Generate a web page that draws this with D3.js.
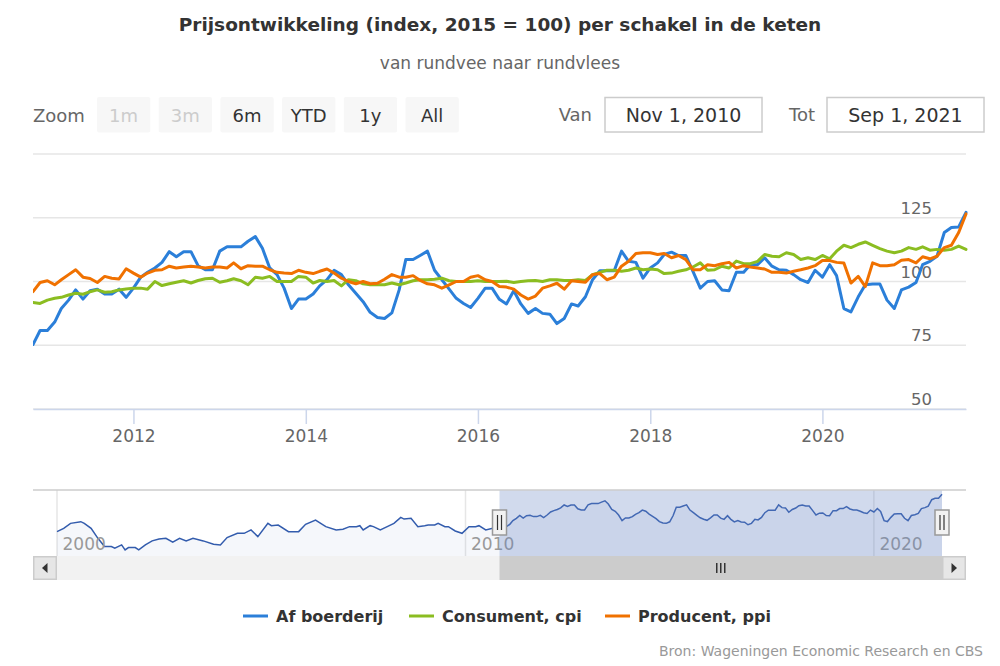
<!DOCTYPE html>
<html><head><meta charset="utf-8">
<script src="https://cdn.jsdelivr.net/npm/d3@7"></script>
<style>body{margin:0;background:#fff}svg{display:block;font-family:"DejaVu Sans",Verdana,sans-serif}</style>
</head><body><svg id="c" width="1000" height="666"></svg>
<script>
// ---------- data ----------
const startMonth = "2010-11", endMonth = "2021-09";
const seriesNames = ["Af boerderij", "Consument, cpi", "Producent, ppi"];
const afBoerderij = [75.3,80.8,80.8,84.1,89.4,92.7,96.7,93.1,96.4,97.0,95.1,95.1,97.0,93.8,97.4,101.7,103.6,105.3,107.5,111.7,109.7,111.7,111.7,106.2,104.6,104.6,111.9,113.6,113.6,113.6,115.8,117.6,113.0,105.3,102.7,97.4,89.4,93.1,93.1,95.1,98.3,100.7,104.4,102.7,98.7,95.4,92.1,87.9,85.9,85.5,87.7,96.7,108.6,108.6,110.2,111.9,104.4,100.7,97.0,93.4,91.4,89.8,93.4,97.4,97.4,93.0,91.2,96.4,91.2,87.5,89.4,87.5,87.2,83.5,85.5,91.2,90.4,94.0,100.7,104.2,104.2,104.2,111.9,107.9,107.5,101.3,105.3,107.3,110.6,111.5,110.2,110.2,104.0,97.4,100.0,100.3,96.7,96.4,103.6,103.6,106.6,106.6,109.3,106.0,104.6,104.4,102.7,100.7,99.6,104.4,101.7,106.6,102.3,89.4,88.1,94.0,98.7,99.0,99.0,92.7,89.4,96.7,97.8,99.6,106.6,107.9,109.9,119.2,121.2,121.4,127.1];
const consument = [91.8,91.4,92.7,93.4,93.8,94.7,95.4,95.0,96.0,96.7,95.8,96.0,96.7,97.1,97.4,97.4,97.0,100.0,98.4,99.1,99.7,100.3,99.4,100.4,101.1,101.3,99.7,100.3,101.1,100.3,98.7,101.7,101.3,102.0,100.0,100.0,100.0,102.0,101.7,99.4,100.4,100.0,100.4,98.3,100.7,100.3,99.1,98.7,98.7,98.7,99.4,98.7,99.4,100.3,100.7,100.7,100.9,101.3,100.3,100.0,100.0,100.0,100.3,100.0,100.0,100.0,100.1,99.6,100.0,100.3,100.4,100.0,100.7,100.7,100.4,100.4,100.7,100.4,102.7,103.6,104.4,104.4,104.0,104.4,105.3,104.6,104.9,104.6,103.1,103.3,104.0,104.6,105.7,107.3,104.4,104.6,106.0,105.3,108.0,107.0,107.0,107.9,110.6,109.9,109.7,111.3,110.6,108.6,109.3,108.6,110.2,108.9,111.9,114.2,113.3,114.6,115.5,114.2,112.9,111.9,111.3,111.9,113.3,112.6,113.6,112.3,112.6,112.3,112.6,113.9,112.6];
const producent = [96.0,99.6,100.3,98.7,100.7,102.7,104.6,101.7,101.2,99.6,102.0,101.3,101.0,105.0,103.3,101.7,103.3,104.4,104.6,106.0,105.3,105.7,106.0,105.7,105.3,105.7,105.7,105.3,107.3,105.0,106.2,106.0,106.0,104.6,103.6,103.3,103.1,104.4,103.6,103.1,104.0,104.9,103.3,101.3,100.0,99.1,100.0,99.1,99.3,100.9,102.7,101.7,101.7,102.3,100.4,99.1,98.7,97.4,98.7,100.0,100.0,101.7,102.3,100.7,100.0,98.0,97.8,97.0,94.7,93.1,94.3,97.4,98.3,99.3,97.0,100.3,100.0,99.7,102.7,103.1,100.7,101.7,106.0,107.9,111.0,111.3,111.3,110.6,111.0,109.3,110.2,108.6,104.6,104.6,106.6,106.2,107.0,107.5,105.3,106.2,105.7,105.3,104.9,103.6,103.6,103.3,104.0,104.6,105.3,106.2,108.2,108.2,107.5,107.3,99.4,102.0,98.0,107.3,106.2,106.2,106.6,108.3,108.6,107.3,109.7,108.9,109.9,113.3,114.2,119.2,126.5];
// navigator history of "Af boerderij" before the selected range
const historyMonths = ["2000-01","2000-03","2000-05","2000-08","2000-09","2000-11","2001-01","2001-03","2001-05","2001-06","2001-08","2001-09","2001-10","2001-12","2002-01","2002-03","2002-05","2002-07","2002-09","2002-11","2003-01","2003-03","2003-05","2003-08","2003-11","2004-01","2004-03","2004-06","2004-08","2004-10","2004-12","2005-03","2005-04","2005-06","2005-09","2005-12","2006-02","2006-05","2006-08","2006-11","2007-01","2007-03","2007-05","2007-06","2007-07","2007-09","2007-10","2007-12","2008-02","2008-04","2008-06","2008-07","2008-09","2008-11","2009-01","2009-02","2009-04","2009-05","2009-07","2009-08","2009-10","2009-12","2010-02","2010-04","2010-05","2010-07","2010-09"];
const historyValues = [73.7,78.4,85.5,87.9,85.5,78.4,64.2,52.4,52.4,50.1,54.8,47.7,51.0,51.0,47.7,54.8,60.5,63.3,64.2,58.6,64.2,60.5,64.2,60.5,55.7,54.8,65.2,71.3,71.3,76.1,66.6,85.5,82.2,83.1,73.7,73.7,84.1,90.2,80.8,76.1,77.0,80.8,80.8,82.2,76.1,82.2,80.8,76.1,80.8,85.5,94.0,91.6,92.6,80.8,82.2,83.1,83.1,85.5,80.8,80.8,74.6,71.3,80.8,80.8,82.2,76.1,78.4];
const yTicks = [50, 75, 100, 125, 150];
const xTickYears = [2012, 2014, 2016, 2018, 2020];
const navTickYears = [2000, 2010, 2020];
const navStart = "2000-01";
const navYExtent = [39, 133];
const zoomButtons = ["1m", "3m", "6m", "YTD", "1y", "All"];
const disabledButtons = ["1m", "3m"];
const rangeFrom = "Nov 1, 2010", rangeTo = "Sep 1, 2021";
const titleText = "Prijsontwikkeling (index, 2015 = 100) per schakel in de keten";
const subtitleText = "van rundvee naar rundvlees";
const creditText = "Bron: Wageningen Economic Research en CBS";
const colors = ["#2b7fd9", "#8bbd21", "#f07100"];

// ---------- setup ----------
const svg = d3.select("#c");
const pm = d3.timeParse("%Y-%m");
const months = d3.timeMonth.range(pm(startMonth), d3.timeMonth.offset(pm(endMonth), 1));
const seriesVals = [afBoerderij, consument, producent];
const series = seriesVals.map((vals, k) => ({name: seriesNames[k], color: colors[k], pts: vals.map((v, i) => ({date: months[i], v}))}));

const P = {l: 33, r: 966, t: 154, b: 409};
const x = d3.scaleTime().domain([pm(startMonth), pm(endMonth)]).range([P.l, P.r]);
const y = d3.scaleLinear().domain([50, 150]).range([P.b, P.t]);

// title
svg.append("text").attr("x", 500).attr("y", 31).attr("text-anchor", "middle")
  .attr("font-size", 18.5).attr("font-weight", "bold").attr("fill", "#333").text(titleText);
svg.append("text").attr("x", 500).attr("y", 69).attr("text-anchor", "middle")
  .attr("font-size", 17).attr("fill", "#666").text(subtitleText);

// range selector
svg.append("text").attr("x", 33).attr("y", 122).attr("font-size", 18).attr("fill", "#666").text("Zoom");
const bg = svg.append("g").selectAll("g").data(zoomButtons).join("g")
  .attr("transform", (d, i) => `translate(${97 + i * 61.7},97)`);
bg.append("rect").attr("width", 53.3).attr("height", 35.5).attr("rx", 2).attr("fill", "#f7f7f7");
bg.append("text").attr("x", 26.6).attr("y", 25).attr("text-anchor", "middle").attr("font-size", 18)
  .attr("fill", d => disabledButtons.includes(d) ? "#cccccc" : "#333333").text(d => d);

[[rangeFrom, 592, 605, "Van"], [rangeTo, 815, 827, "Tot"]].forEach(([val, lx, bx, lab]) => {
  svg.append("text").attr("x", lx).attr("y", 121).attr("text-anchor", "end").attr("font-size", 18).attr("fill", "#666").text(lab);
  svg.append("rect").attr("x", bx).attr("y", 97.5).attr("width", 157).attr("height", 34.5)
    .attr("fill", "#fff").attr("stroke", "#cccccc").attr("stroke-width", 1.5);
  svg.append("text").attr("x", bx + 78.5).attr("y", 122).attr("text-anchor", "middle").attr("font-size", 19).attr("fill", "#333").text(val);
});

// gridlines + y labels
const grid = svg.append("g");
grid.selectAll("line").data(yTicks).join("line")
  .attr("x1", P.l).attr("x2", P.r).attr("y1", d => y(d)).attr("y2", d => y(d))
  .attr("stroke", "#e6e6e6").attr("stroke-width", 1.5);
grid.selectAll("text").data(yTicks.slice(0, -1)).join("text")
  .attr("x", 932).attr("y", d => y(d) - 4).attr("text-anchor", "end")
  .attr("font-size", 16.5).attr("fill", "#666").text(d => d);

// x axis
const xa = svg.append("g").attr("transform", `translate(0,${P.b})`)
  .call(d3.axisBottom(x).tickValues(xTickYears.map(yr => new Date(yr, 0, 1)))
    .tickSize(15).tickSizeOuter(0).tickPadding(6).tickFormat(d3.timeFormat("%Y")));
xa.select(".domain").attr("stroke", "#ccd6eb").attr("stroke-width", 1.5);
xa.selectAll(".tick line").attr("stroke", "#ccd6eb").attr("stroke-width", 1.5);
xa.selectAll(".tick text").attr("font-size", 17).attr("fill", "#666").attr("font-family", "DejaVu Sans");

// series
svg.append("clipPath").attr("id", "pc").append("rect")
  .attr("x", P.l).attr("y", P.t - 10).attr("width", P.r - P.l + 2).attr("height", P.b - P.t + 10);
const line = d3.line().x(d => x(d.date)).y(d => y(d.v));
svg.append("g").attr("clip-path", "url(#pc)").selectAll("path").data(series).join("path")
  .attr("d", d => line(d.pts)).attr("fill", "none").attr("stroke", d => d.color)
  .attr("stroke-width", 3).attr("stroke-linejoin", "round").attr("stroke-linecap", "round");

// navigator
const N = {l: 57, r: 942, t: 490, b: 556};
const nx = d3.scaleTime().domain([pm(navStart), pm(endMonth)]).range([N.l, N.r]);
const ny = d3.scaleLinear().domain(navYExtent).range([N.b, N.t]);
const navPts = historyMonths.map((m, i) => ({date: pm(m), v: historyValues[i]})).concat(series[0].pts);
const ng = svg.append("g");
ng.selectAll("line.ng").data(navTickYears).join("line").attr("class", "ng")
  .attr("x1", d => nx(new Date(d, 0, 1))).attr("x2", d => nx(new Date(d, 0, 1)))
  .attr("y1", N.t).attr("y2", N.b).attr("stroke", "#e6e6e6").attr("stroke-width", 1.5);
ng.append("path").datum(navPts)
  .attr("d", d3.area().x(d => nx(d.date)).y0(N.b).y1(d => ny(d.v)))
  .attr("fill", "#335cad").attr("fill-opacity", 0.05);
ng.append("path").datum(navPts)
  .attr("d", d3.line().x(d => nx(d.date)).y(d => ny(d.v)))
  .attr("fill", "none").attr("stroke", "#335cad").attr("stroke-width", 1.5);
ng.selectAll("text").data(navTickYears).join("text")
  .attr("x", d => nx(new Date(d, 0, 1)) + 5.5).attr("y", 550)
  .attr("font-size", 17).attr("fill", "#999").text(d => d);
const selA = nx(pm(startMonth)), selB = nx(pm(endMonth));
ng.append("rect").attr("x", selA).attr("y", N.t).attr("width", selB - selA).attr("height", N.b - N.t)
  .attr("fill", "rgba(102,133,194,0.3)");
ng.append("line").attr("x1", P.l).attr("x2", P.r).attr("y1", N.t).attr("y2", N.t)
  .attr("stroke", "#cccccc").attr("stroke-width", 1.5);

// scrollbar
const S = {t: 556, h: 24};
svg.append("rect").attr("x", P.l).attr("y", S.t).attr("width", P.r - P.l).attr("height", S.h).attr("fill", "#f2f2f2");
svg.append("rect").attr("x", selA).attr("y", S.t).attr("width", selB - selA).attr("height", S.h).attr("fill", "#cccccc");
[[P.l, -1], [N.r, 1]].forEach(([bx, dir]) => {
  svg.append("rect").attr("x", bx + 0.75).attr("y", S.t + 0.75).attr("width", 22.5).attr("height", S.h - 1.5)
    .attr("fill", "#e6e6e6").attr("stroke", "#cccccc").attr("stroke-width", 1.5);
  const cx = bx + 12, cy = S.t + 12;
  svg.append("path").attr("d", `M${cx - 2.5 * dir},${cy - 5}L${cx - 2.5 * dir},${cy + 5}L${cx + 3 * dir},${cy}Z`)
    .attr("fill", "#333");
});
const rc = (selA + selB) / 2;
[-4, 0, 4].forEach(o => svg.append("line").attr("x1", rc + o).attr("x2", rc + o).attr("y1", 563).attr("y2", 573)
  .attr("stroke", "#333").attr("stroke-width", 1.5));

// handles
[selA, selB].forEach(hx => {
  svg.append("rect").attr("x", hx - 7).attr("y", 510).attr("width", 14).attr("height", 25)
    .attr("fill", "#f2f2f2").attr("stroke", "#999999").attr("stroke-width", 1.5);
  [-2, 2].forEach(o => svg.append("line").attr("x1", hx + o).attr("x2", hx + o).attr("y1", 515).attr("y2", 530)
    .attr("stroke", "#333").attr("stroke-width", 1.2));
});

// legend
const legX = [243, 409, 605];
const lg = svg.append("g").selectAll("g").data(series).join("g").attr("transform", (d, i) => `translate(${legX[i]},616)`);
lg.append("line").attr("x1", 0).attr("x2", 25).attr("stroke", d => d.color).attr("stroke-width", 3);
lg.append("text").attr("x", 33).attr("y", 6).attr("font-size", 16).attr("font-weight", "bold").attr("fill", "#333").text(d => d.name);

// credits
svg.append("text").attr("x", 983).attr("y", 656).attr("text-anchor", "end").attr("font-size", 14).attr("fill", "#999").text(creditText);
</script></body></html>
